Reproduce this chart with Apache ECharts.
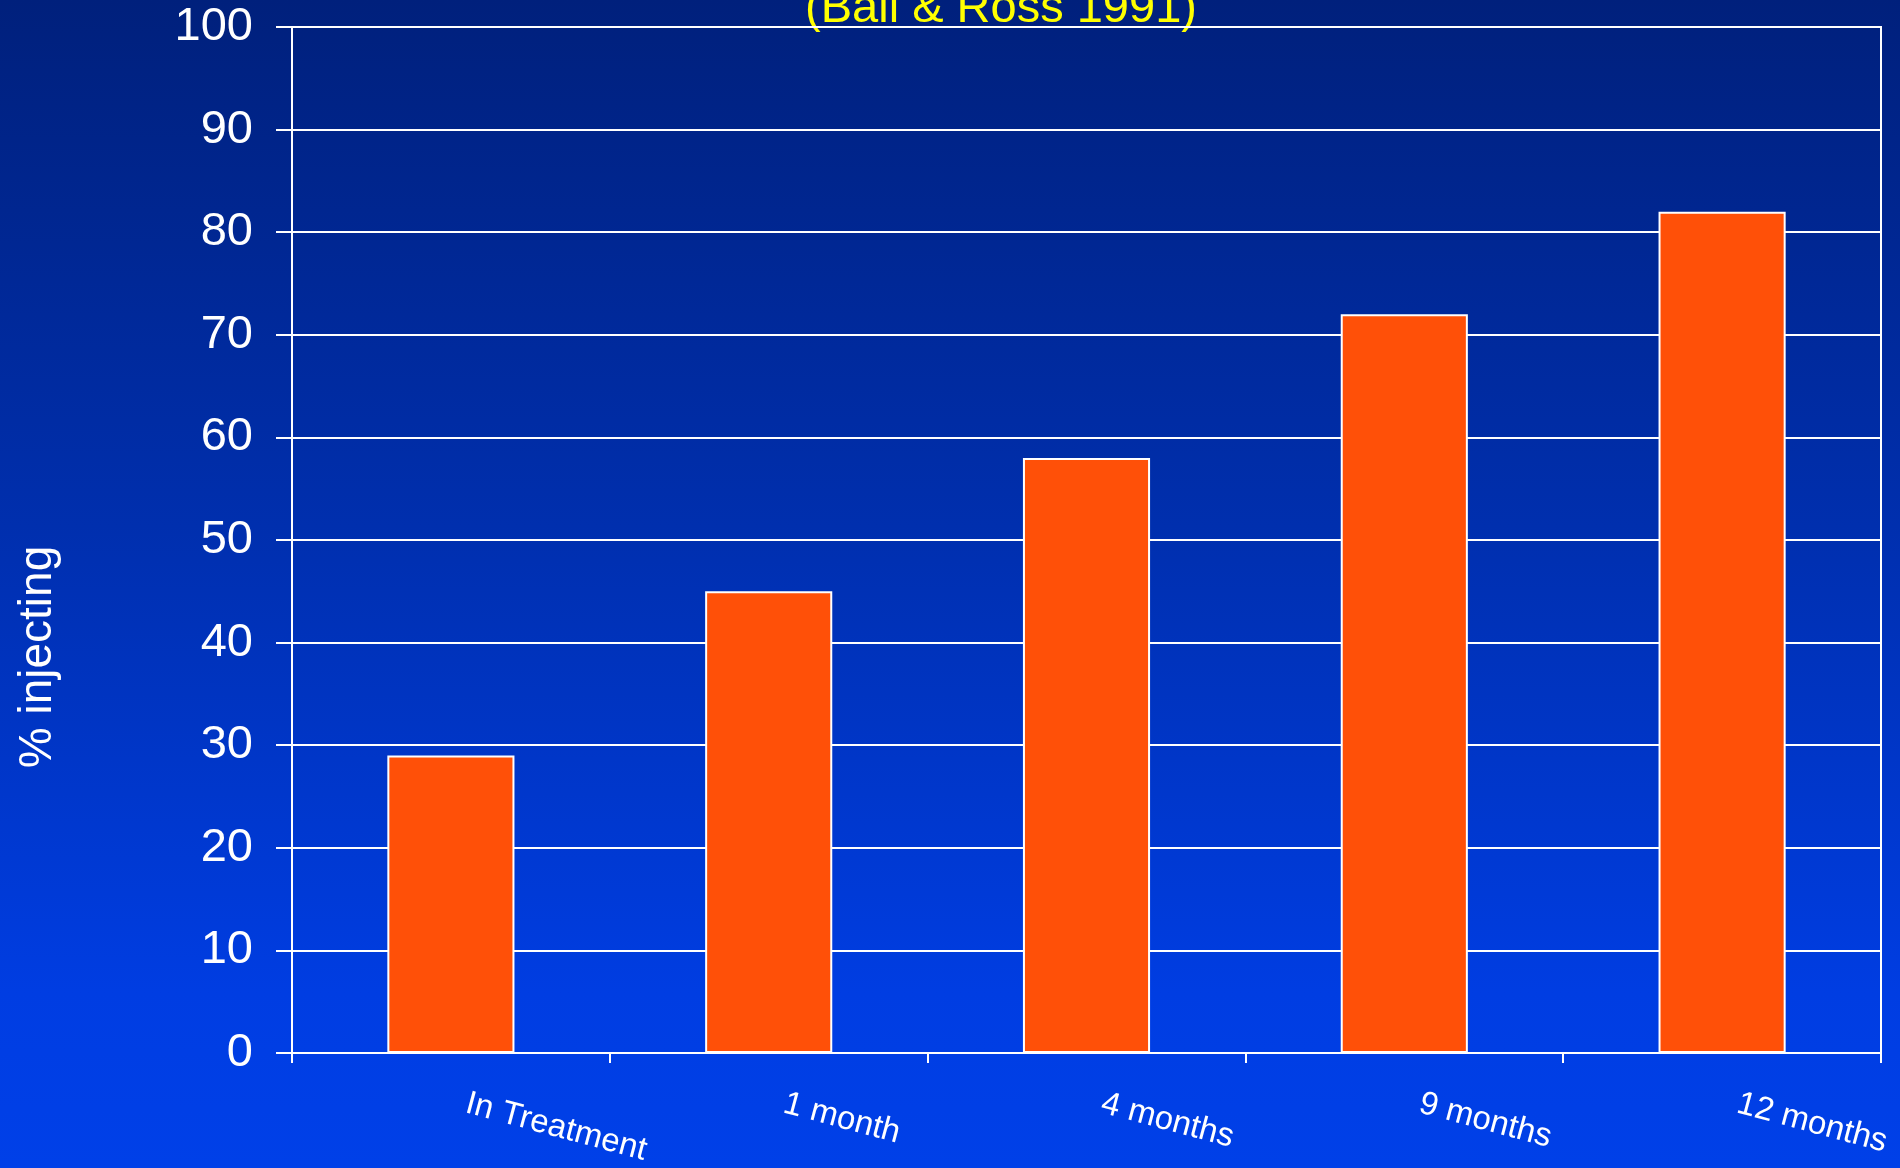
<!DOCTYPE html>
<html>
<head>
<meta charset="utf-8">
<script src="https://cdn.jsdelivr.net/npm/echarts@6/dist/echarts.min.js"></script>
<style>
  html, body { margin: 0; padding: 0; }
  #chart { width: 1900px; height: 1168px; }
</style>
</head>
<body>
<div id="chart"></div>
<script>
// Share of clients injecting, by time since treatment
const categories = ['In Treatment', '1 month', '4 months', '9 months', '12 months'];
const injectingPct = [29, 45, 58, 72, 82];
const yMin = 0;
const yMax = 100;
const yStep = 10;
const subtitle = '(Ball & Ross 1991)';
const yName = '% injecting';

const FONT = '"Liberation Sans", Arial, sans-serif';
const chart = echarts.init(document.getElementById('chart'), null, { renderer: 'canvas' });

chart.setOption({
  animation: false,
  backgroundColor: {
    type: 'linear', x: 0, y: 0, x2: 0, y2: 1,
    colorStops: [
      { offset: 0, color: '#00207c' },
      { offset: 0.45, color: '#002fae' },
      { offset: 0.85, color: '#003de2' },
      { offset: 1, color: '#0040e8' }
    ]
  },
  grid: {
    left: 292, right: 19, top: 27, bottom: 115,
    show: true, borderColor: '#ffffff', borderWidth: 2, backgroundColor: 'transparent'
  },
  graphic: [
    {
      type: 'text', x: 1001, y: -14,
      style: { text: subtitle, fill: '#ffff00', font: '47px ' + FONT, align: 'center' }
    },
    {
      type: 'text', x: 38, y: 657, rotation: Math.PI / 2,
      style: {
        text: yName, fill: '#ffffff', font: '46px ' + FONT,
        align: 'center', verticalAlign: 'middle'
      }
    }
  ],
  xAxis: {
    type: 'category',
    data: categories,
    axisLine: { lineStyle: { color: '#ffffff', width: 2 } },
    axisTick: { show: true, length: 10, lineStyle: { color: '#ffffff', width: 2 } },
    axisLabel: {
      interval: 0, rotate: -15, margin: 46, color: '#ffffff',
      fontFamily: FONT, fontSize: 33, padding: [0, 0, 0, 16]
    },
    splitLine: { show: false }
  },
  yAxis: {
    type: 'value',
    min: yMin, max: yMax, interval: yStep,
    axisLine: { show: true, lineStyle: { color: '#ffffff', width: 2 } },
    axisTick: { show: true, length: 16, lineStyle: { color: '#ffffff', width: 2 } },
    axisLabel: { color: '#ffffff', fontFamily: FONT, fontSize: 47, margin: 39 },
    splitLine: { show: true, lineStyle: { color: '#ffffff', width: 2 } }
  },
  series: [{
    type: 'bar',
    data: injectingPct,
    barWidth: '40%',
    itemStyle: { color: '#ff5008', borderColor: '#ffffff', borderWidth: 2 }
  }]
});
</script>
</body>
</html>
